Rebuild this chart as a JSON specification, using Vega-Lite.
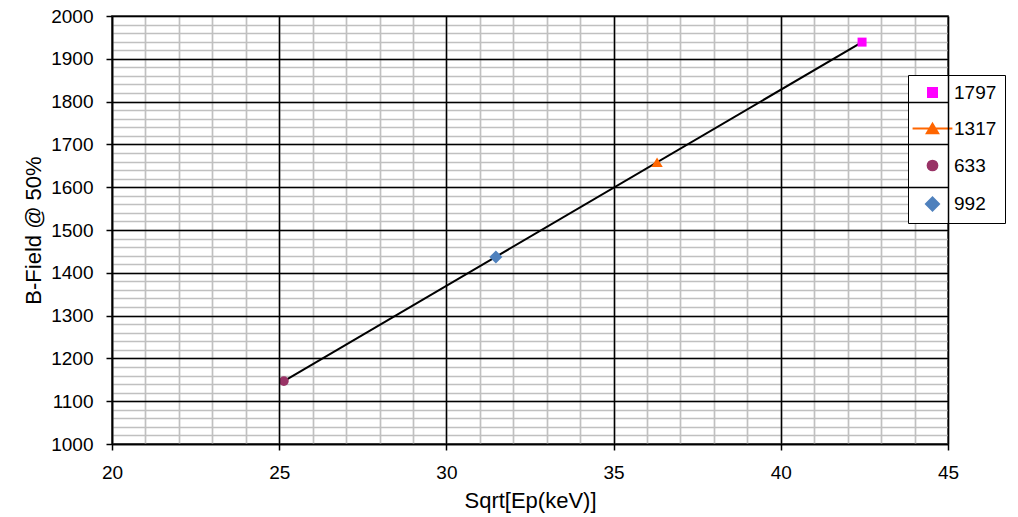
{
  "$schema": "https://vega.github.io/schema/vega-lite/v6.json",
  "width": 836,
  "height": 428,
  "autosize": "none",
  "padding": {"left": 112, "top": 16, "right": 70, "bottom": 73},
  "background": "white",
  "config": {
    "font": "Liberation Sans",
    "view": {"stroke": "black", "strokeWidth": 1.5}
  },
  "datasets": {
    "points": [
      {"series": "1797", "ep": 42.43, "bfield": 1939},
      {"series": "1317", "ep": 36.3, "bfield": 1657},
      {"series": "633", "ep": 25.14, "bfield": 1147},
      {"series": "992", "ep": 31.48, "bfield": 1437}
    ],
    "fit": [
      {"ep": 25.14, "bfield": 1147},
      {"ep": 42.43, "bfield": 1939}
    ]
  },
  "layer": [
    {
      "data": {"name": "fit"},
      "mark": {"type": "line", "color": "black", "strokeWidth": 2},
      "encoding": {
        "x": {
          "field": "ep", "type": "quantitative",
          "scale": {"domain": [20, 45], "nice": false, "zero": false},
          "axis": {
            "orient": "top", "title": null, "labels": false, "ticks": false, "domain": false,
            "grid": true, "gridColor": "#c0c0c0", "gridWidth": 1.7, "zindex": 0,
            "values": [20,21,22,23,24,25,26,27,28,29,30,31,32,33,34,35,36,37,38,39,40,41,42,43,44,45]
          }
        },
        "y": {
          "field": "bfield", "type": "quantitative",
          "scale": {"domain": [1000, 2000], "nice": false, "zero": false},
          "axis": {
            "orient": "right", "title": null, "labels": false, "ticks": false, "domain": false,
            "grid": true, "gridColor": "#c0c0c0", "gridWidth": 1.7, "zindex": 0,
            "values": [1000,1020,1040,1060,1080,1100,1120,1140,1160,1180,1200,1220,1240,1260,1280,1300,1320,1340,1360,1380,1400,1420,1440,1460,1480,1500,1520,1540,1560,1580,1600,1620,1640,1660,1680,1700,1720,1740,1760,1780,1800,1820,1840,1860,1880,1900,1920,1940,1960,1980,2000]
          }
        }
      }
    },
    {
      "data": {"name": "points"},
      "mark": {"type": "point", "filled": true, "opacity": 1, "strokeWidth": 0},
      "encoding": {
        "x": {
          "field": "ep", "type": "quantitative",
          "axis": {
            "orient": "bottom", "title": "Sqrt[Ep(keV)]", "zindex": 1,
            "values": [20, 25, 30, 35, 40, 45], "format": "d",
            "grid": true, "gridColor": "black", "gridWidth": 1.5,
            "domainColor": "black", "domainWidth": 1.5,
            "tickColor": "black", "tickWidth": 1.5, "tickSize": 6,
            "labelFontSize": 19, "labelColor": "black", "labelPadding": 13, "labelFlush": false,
            "titleFontSize": 22, "titleFontWeight": "normal", "titleColor": "black", "titlePadding": 8
          }
        },
        "y": {
          "field": "bfield", "type": "quantitative",
          "axis": {
            "orient": "left", "title": "B-Field @ 50%", "zindex": 1,
            "values": [1000,1100,1200,1300,1400,1500,1600,1700,1800,1900,2000], "format": "d",
            "grid": true, "gridColor": "black", "gridWidth": 1.5,
            "domainColor": "black", "domainWidth": 1.5,
            "tickColor": "black", "tickWidth": 1.5, "tickSize": 6,
            "labelFontSize": 19, "labelColor": "black", "labelPadding": 13, "labelFlush": false,
            "titleFontSize": 22, "titleFontWeight": "normal", "titleColor": "black", "titlePadding": 5
          }
        },
        "color": {
          "field": "series", "type": "nominal",
          "scale": {"domain": ["1797", "1317", "633", "992"], "range": ["#FF00FF", "#FF6600", "#993366", "#4F81BD"]},
          "legend": {
            "title": null, "orient": "none", "legendX": 796, "legendY": 59,
            "strokeColor": "black", "fillColor": "white",
            "padding": 8, "symbolSize": 64, "symbolOffset": 7, "labelOffset": 12,
            "symbolStrokeWidth": 2,
            "labelFontSize": 19, "labelColor": "black", "rowPadding": 16.5,
            "encode": {
              "legend": {
                "update": {"strokeWidth": {"value": 1.5}}
              }
            }
          }
        },
        "stroke": {
          "field": "series", "type": "nominal",
          "scale": {"domain": ["1797", "1317", "633", "992"], "range": ["#FF00FF", "#FF6600", "#993366", "#4F81BD"]}
        },
        "shape": {
          "field": "series", "type": "nominal",
          "scale": {"domain": ["1797", "1317", "633", "992"], "range": ["square", "M-4.2,-0.1H4.2M0,-1.1L1.2,0.9H-1.2Z", "circle", "diamond"]}
        },
        "size": {
          "field": "series", "type": "nominal",
          "scale": {"type": "ordinal", "domain": ["1797", "1317", "633", "992"], "range": [81, 90, 95, 170]},
          "legend": null
        }
      }
    }
  ],
  "resolve": {"axis": {"x": "independent", "y": "independent"}}
}
